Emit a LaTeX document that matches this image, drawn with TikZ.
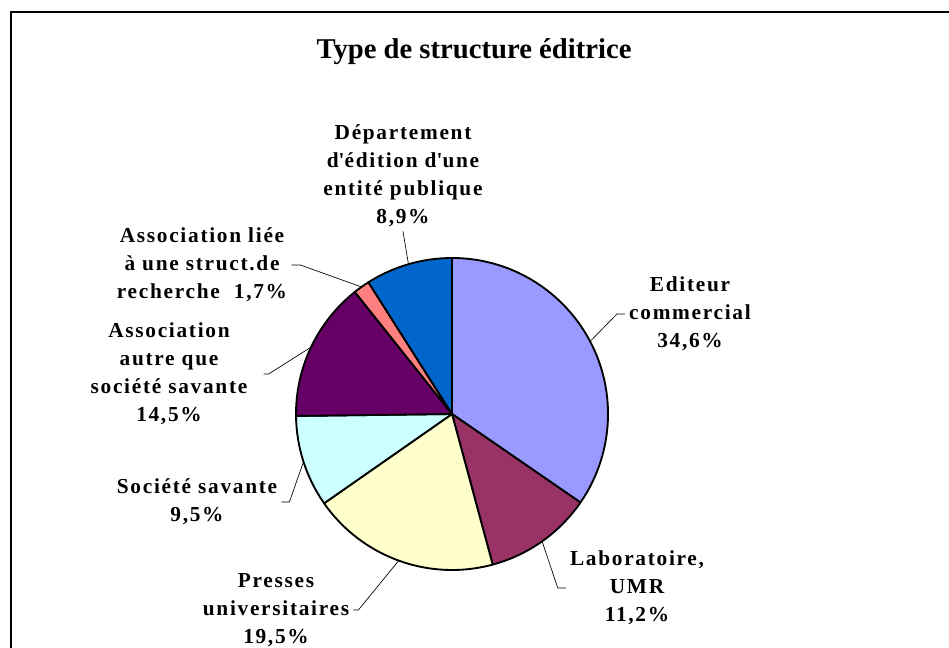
\documentclass[tikz,border=0pt]{standalone}
\usepackage{fontspec}
\setmainfont{Liberation Serif}
\usetikzlibrary{calc}

\definecolor{col_edit}{HTML}{9999FF}
\definecolor{col_lab}{HTML}{993366}
\definecolor{col_pres}{HTML}{FFFFCC}
\definecolor{col_soc}{HTML}{CCFFFF}
\definecolor{col_autre}{HTML}{660066}
\definecolor{col_liee}{HTML}{FF8080}
\definecolor{col_dept}{HTML}{0066CC}

\begin{document}
\begin{tikzpicture}[x=0.75pt, y=0.75pt]
  \tikzstyle{pie_slice} = [draw = black, line width=1.4pt, line join=round]
  \tikzstyle{pie_label} = [align=center, inner sep=3pt,
                           font=\bfseries\fontsize{16}{21}\selectfont\addfontfeatures{LetterSpace=8}]
  \tikzstyle{pie_lead}  = [draw = black, line width=0.5pt]

  \useasboundingbox (0,0) rectangle (949,-648);
  \draw[line width=2pt] (11,-648) -- (11,-12) -- (949,-12);

  \node[font=\bfseries\fontsize{21.5}{26}\selectfont] at (474,-52) (title) {Type de structure éditrice};

  \coordinate (c) at (452,-414);

  % slices, clockwise from the top
  \filldraw[pie_slice, fill=col_edit]  (c) -- ++(90:156)      arc[start angle=90,      end angle=-34.56,  radius=156] -- cycle;
  \filldraw[pie_slice, fill=col_lab]   (c) -- ++(-34.56:156)  arc[start angle=-34.56,  end angle=-74.88,  radius=156] -- cycle;
  \filldraw[pie_slice, fill=col_pres]  (c) -- ++(-74.88:156)  arc[start angle=-74.88,  end angle=-145.08, radius=156] -- cycle;
  \filldraw[pie_slice, fill=col_soc]   (c) -- ++(-145.08:156) arc[start angle=-145.08, end angle=-179.28, radius=156] -- cycle;
  \filldraw[pie_slice, fill=col_autre] (c) -- ++(-179.28:156) arc[start angle=-179.28, end angle=-231.48, radius=156] -- cycle;
  \filldraw[pie_slice, fill=col_liee]  (c) -- ++(-231.48:156) arc[start angle=-231.48, end angle=-237.6,  radius=156] -- cycle;
  \filldraw[pie_slice, fill=col_dept]  (c) -- ++(-237.6:156)  arc[start angle=-237.6,  end angle=-270,    radius=156] -- cycle;

  \coordinate (p_edit)  at ($(c)+(27.72:156)$);
  \coordinate (p_lab)   at ($(c)+(-54.72:156)$);
  \coordinate (p_pres)  at ($(c)+(-109.98:156)$);
  \coordinate (p_soc)   at ($(c)+(-162.18:156)$);
  \coordinate (p_autre) at ($(c)+(-205.38:156)$);
  \coordinate (p_liee)  at ($(c)+(-234.54:156)$);
  \coordinate (p_dept)  at ($(c)+(-253.8:156)$);

  \node[pie_label] at (690,-314) (lbl_edit)  {Editeur\\commercial\\34,6\%};
  \node[pie_label] at (637,-588) (lbl_lab)   {Laboratoire,\\UMR\\11,2\%};
  \node[pie_label] at (276,-610) (lbl_pres)  {Presses\\universitaires\\19,5\%};
  \node[pie_label] at (197,-502) (lbl_soc)   {Société savante\\9,5\%};
  \node[pie_label] at (169,-374) (lbl_autre) {Association\\autre que\\société savante\\14,5\%};
  \node[pie_label] at (202,-265) (lbl_liee)  {Association liée\\à une struct.de\\recherche\ \ 1,7\%};
  \node[pie_label] at (403,-176) (lbl_dept)  {Département\\d\textquotesingle édition d\textquotesingle une\\entité publique\\8,9\%};

  \draw[pie_lead] (lbl_edit.west)  -- ++(-8,0) -- (p_edit);
  \draw[pie_lead] (lbl_lab.west)   -- ++(-8,0) -- (p_lab);
  \draw[pie_lead] (lbl_pres.east)  -- ++(5,0)  -- (p_pres);
  \draw[pie_lead] (lbl_soc.east)   -- ++(8,0)  -- (p_soc);
  \draw[pie_lead] ($(lbl_autre.east)+(12,0)$) -- ++(5,0) -- (p_autre);
  \draw[pie_lead] (lbl_liee.east)  -- ++(9,0)  -- (p_liee);
  \draw[pie_lead] (lbl_dept.south) -- (p_dept);
\end{tikzpicture}
\end{document}
